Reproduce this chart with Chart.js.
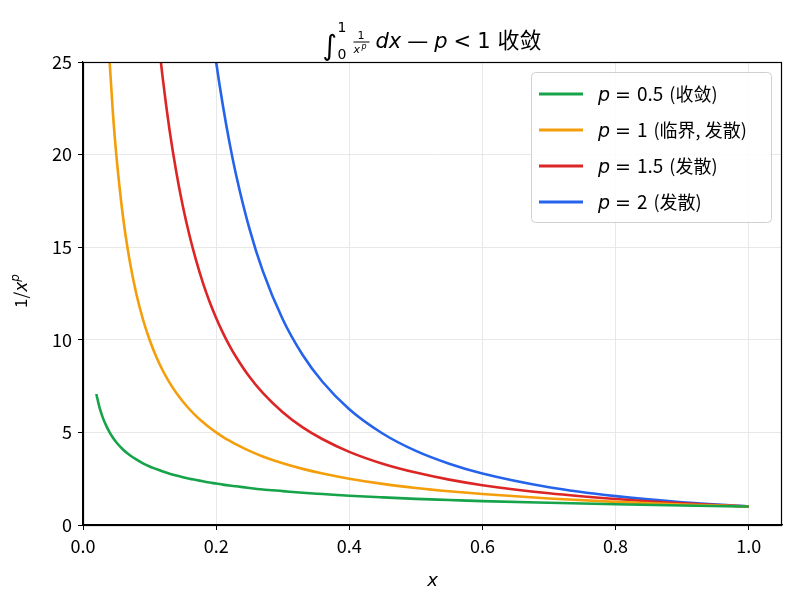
<!DOCTYPE html>
<html>
<head>
<meta charset="utf-8">
<script src="https://cdn.jsdelivr.net/npm/chart.js@4.4.1/dist/chart.umd.min.js"></script>
<style>
  html, body { margin: 0; padding: 0; background: #fff; }
  #wrap { width: 796px; height: 607px; }
</style>
</head>
<body>
<div id="wrap"><canvas id="c" width="796" height="607"></canvas></div>
<script>
// sample x positions
const xs = [0.02, 0.025, 0.03, 0.035, 0.04, 0.045, 0.05, 0.06, 0.07, 0.08, 0.09, 0.1, 0.11, 0.12, 0.13, 0.14, 0.15, 0.16, 0.17, 0.18, 0.19, 0.2, 0.21, 0.22, 0.23, 0.25, 0.27, 0.3, 0.33, 0.36, 0.4, 0.45, 0.5, 0.55, 0.6, 0.7, 0.8, 0.9, 1.0];

// 1/x^p (null = above the top of the plot, not drawn)
const p05 = [7.07, 6.32, 5.77, 5.35, 5.0, 4.71, 4.47, 4.08, 3.78, 3.54, 3.33, 3.16, 3.02, 2.89, 2.77, 2.67, 2.58, 2.5, 2.43, 2.36, 2.29, 2.24, 2.18, 2.13, 2.09, 2.0, 1.92, 1.83, 1.74, 1.67, 1.58, 1.49, 1.41, 1.35, 1.29, 1.2, 1.12, 1.05, 1.0];
const p1 = [null, null, 33.3, 28.57, 25.0, 22.2, 20.0, 16.67, 14.29, 12.5, 11.11, 10.0, 9.09, 8.33, 7.69, 7.14, 6.67, 6.25, 5.88, 5.56, 5.26, 5.0, 4.76, 4.55, 4.35, 4.0, 3.7, 3.33, 3.03, 2.78, 2.5, 2.22, 2.0, 1.82, 1.67, 1.43, 1.25, 1.11, 1.0];
const p15 = [null, null, null, null, null, null, null, null, null, null, null, 31.6, 27.4, 24.06, 21.33, 19.09, 17.21, 15.63, 14.27, 13.09, 12.07, 11.18, 10.39, 9.69, 9.07, 8.0, 7.13, 6.09, 5.27, 4.63, 3.95, 3.31, 2.83, 2.45, 2.15, 1.71, 1.4, 1.17, 1.0];
const p2 = [null, null, null, null, null, null, null, null, null, null, null, null, null, null, null, null, null, null, null, 30.86, 27.7, 25.0, 22.68, 20.66, 18.9, 16.0, 13.72, 11.11, 9.18, 7.72, 6.25, 4.94, 4.0, 3.31, 2.78, 2.04, 1.56, 1.23, 1.0];

const xTicks = [0, 0.2, 0.4, 0.6, 0.8, 1.0];
const legendNames = [["0.5", "(收敛)"], ["1", "(临界, 发散)"], ["1.5", "(发散)"], ["2", "(发散)"]];
const colors = ["#16a34a", "#f59e0b", "#dc2626", "#2563eb"];

const CJK = '"Noto Sans CJK SC", "DejaVu Sans", sans-serif';
const MATH = '"DejaVu Sans", sans-serif';

function pts(ys) {
  return xs.map((x, i) => ({ x: x, y: ys[i] }));
}

// draw a list of text runs left to right, returns end x
function runs(ctx, list, x, y) {
  list.forEach(r => {
    ctx.font = r.f;
    ctx.fillText(r.t, x, y + (r.dy || 0));
    x += ctx.measureText(r.t).width + (r.gap || 0);
  });
  return x;
}

const decor = {
  id: "decor",
  afterDraw(chart) {
    const ctx = chart.ctx;
    const a = chart.chartArea;
    ctx.save();
    // spines
    ctx.strokeStyle = "#000";
    ctx.lineWidth = 1.2;
    ctx.strokeRect(a.left + 0.5, a.top + 0.5, a.right - a.left - 1, a.bottom - a.top);
    ctx.fillStyle = "#000";
    ctx.textBaseline = "alphabetic";

    // title
    const cx = (a.left + a.right) / 2;
    let x = cx - 110, y = 48;
    ctx.font = "italic 28px " + MATH;
    ctx.fillText("\u222B", x, y + 7);
    x += 13;
    ctx.font = "14px " + MATH;
    ctx.fillText("1", x + 2, y - 16);
    ctx.fillText("0", x + 2, y + 11);
    x += 17;
    ctx.font = "11px " + MATH;
    ctx.fillText("1", x + 5, y - 9);
    ctx.fillRect(x + 1, y - 6.5, 16, 1);
    ctx.font = "italic 11px " + MATH;
    ctx.fillText("x", x + 1, y + 5);
    ctx.font = "italic 8px " + MATH;
    ctx.fillText("p", x + 9, y + 1);
    x += 23;
    runs(ctx, [
      { t: "dx", f: "italic 21px " + MATH, gap: 6 },
      { t: "\u2014", f: "21px " + MATH, gap: 6 },
      { t: "p", f: "italic 21px " + MATH, gap: 6 },
      { t: "<", f: "21px " + MATH, gap: 6 },
      { t: "1", f: "21px " + MATH, gap: 7 },
      { t: "收敛", f: "22px " + CJK }
    ], x, y);

    // y label
    ctx.save();
    ctx.translate(27, 291);
    ctx.rotate(-Math.PI / 2);
    ctx.font = "17px " + CJK;
    const w1 = ctx.measureText("1/").width;
    ctx.font = "italic 17px " + MATH;
    const w2 = ctx.measureText("x").width;
    ctx.font = "italic 12px " + MATH;
    const w3 = ctx.measureText("p").width;
    let sx = -(w1 + w2 + w3) / 2;
    ctx.font = "17px " + CJK;
    ctx.fillText("1/", sx, 0);
    sx += w1;
    ctx.font = "italic 17px " + MATH;
    ctx.fillText("x", sx, 0);
    sx += w2;
    ctx.font = "italic 12px " + MATH;
    ctx.fillText("p", sx, -8);
    ctx.restore();

    // x label
    ctx.font = "italic 18px " + MATH;
    ctx.textAlign = "center";
    ctx.fillText("x", cx, 586);
    ctx.textAlign = "left";

    // legend
    const lx = 531, ly = 72, lw = 240, lh = 150;
    ctx.fillStyle = "rgba(255,255,255,0.85)";
    ctx.strokeStyle = "#d0d0d0";
    ctx.lineWidth = 1;
    ctx.beginPath();
    ctx.roundRect(lx + 0.5, ly + 0.5, lw, lh, 4);
    ctx.fill();
    ctx.stroke();
    chart.data.datasets.forEach((ds, i) => {
      const ry = 94 + i * 36;
      ctx.strokeStyle = ds.borderColor;
      ctx.lineWidth = 3;
      ctx.beginPath();
      ctx.moveTo(539, ry);
      ctx.lineTo(583, ry);
      ctx.stroke();
      ctx.fillStyle = "#000";
      runs(ctx, [
        { t: "p", f: "italic 19px " + MATH, gap: 5 },
        { t: "=", f: "19px " + MATH, gap: 6 },
        { t: legendNames[i][0], f: "19px " + CJK, gap: 6 },
        { t: legendNames[i][1], f: "18px " + CJK }
      ], 598, ry + 7);
    });
    ctx.restore();
  }
};

new Chart(document.getElementById("c").getContext("2d"), {
  type: "line",
  data: {
    datasets: [p05, p1, p15, p2].map((ys, i) => ({
      label: "p = " + legendNames[i].join(" "),
      data: pts(ys),
      borderColor: colors[i],
      borderWidth: 2.6,
      pointRadius: 0,
      cubicInterpolationMode: "monotone",
      fill: false
    }))
  },
  options: {
    responsive: false,
    animation: false,
    layout: { padding: { top: 62, right: 14, left: 0, bottom: 0 } },
    plugins: {
      legend: { display: false },
      title: { display: false },
      tooltip: { enabled: false }
    },
    scales: {
      x: {
        type: "linear",
        min: 0,
        max: 1.05,
        afterBuildTicks: s => { s.ticks = xTicks.map(v => ({ value: v })); },
        afterFit: s => { s.height = 82; },
        ticks: {
          color: "#000",
          font: { family: CJK, size: 18 },
          padding: 5,
          maxRotation: 0,
          callback: v => v.toFixed(1)
        },
        grid: { color: "#e8e8e8", tickColor: "#000", tickLength: 5 },
        border: { color: "#000", width: 1.2 }
      },
      y: {
        min: 0,
        max: 25,
        afterFit: s => { s.width = 83; },
        ticks: {
          stepSize: 5,
          color: "#000",
          font: { family: CJK, size: 18 },
          padding: 6
        },
        grid: { color: "#e8e8e8", tickColor: "#000", tickLength: 5 },
        border: { color: "#000", width: 1.2 }
      }
    }
  },
  plugins: [decor]
});
</script>
</body>
</html>
